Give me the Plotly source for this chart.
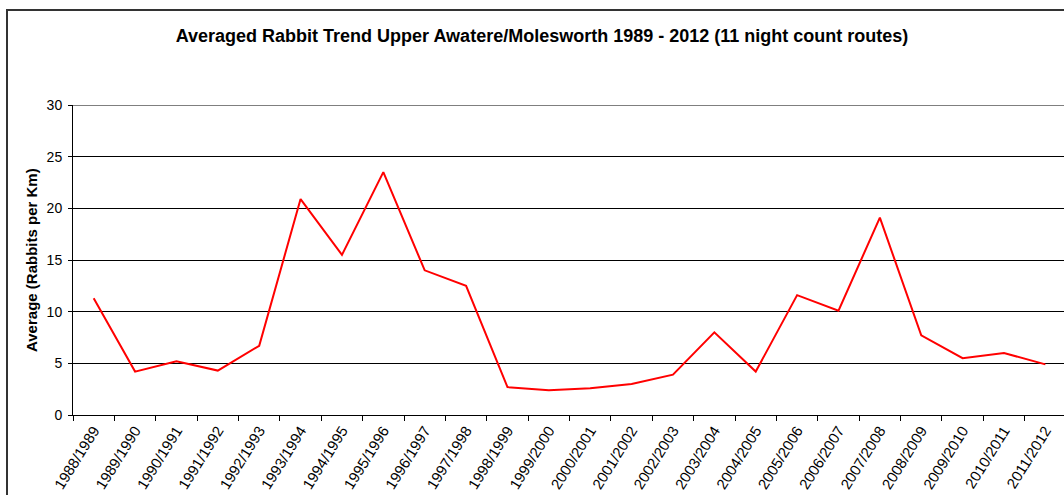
import plotly.graph_objects as go

# Season labels and averaged night-count densities (rabbits per km)
seasons = [
    "1988/1989", "1989/1990", "1990/1991", "1991/1992", "1992/1993", "1993/1994",
    "1994/1995", "1995/1996", "1996/1997", "1997/1998", "1998/1999", "1999/2000",
    "2000/2001", "2001/2002", "2002/2003", "2003/2004", "2004/2005", "2005/2006",
    "2006/2007", "2007/2008", "2008/2009", "2009/2010", "2010/2011", "2011/2012",
]
avg_rabbits = [
    11.3, 4.2, 5.2, 4.3, 6.7, 20.9,
    15.5, 23.5, 14.0, 12.5, 2.7, 2.4,
    2.6, 3.0, 3.9, 8.0, 4.2, 11.6,
    10.1, 19.1, 7.7, 5.5, 6.0, 4.9,
]
y_ticks = [0, 5, 10, 15, 20, 25, 30]

W, H = 1064, 495
L, R, T, B = 73, 0, 105, 80
PW, PH = W - L - R, H - T - B


def px_x(px):
    return (px - L) / PW


def px_y(py):
    return (H - B - py) / PH


fig = go.Figure()
fig.add_trace(go.Scatter(
    x=seasons, y=avg_rabbits, mode="lines",
    line=dict(color="#FF0000", width=2),
    showlegend=False, hoverinfo="x+y",
))

font_family = "Liberation Sans, Arial, sans-serif"

fig.update_layout(
    width=W, height=H,
    margin=dict(l=L, r=R, t=T, b=B, pad=0),
    paper_bgcolor="white", plot_bgcolor="white",
    font=dict(family=font_family, color="black"),
    title=dict(
        text="<b>Averaged Rabbit Trend Upper Awatere/Molesworth 1989 - 2012 (11 night count routes)</b>",
        font=dict(size=18, family=font_family, color="black"),
        xref="container", yref="container",
        x=542 / W, y=1 - 36 / H, xanchor="center", yanchor="middle",
    ),
    xaxis=dict(
        type="category",
        range=[-0.5, 23.45],
        tickangle=-58,
        tickson="boundaries",
        ticks="outside", ticklen=5, tickcolor="black", tickwidth=1,
        showline=True, linecolor="black", linewidth=1,
        showgrid=False, zeroline=False,
        tickfont=dict(size=15, family=font_family, color="black"),
    ),
    yaxis=dict(
        range=[0, 30],
        tickvals=y_ticks,
        ticks="outside", ticklen=4, tickcolor="black", tickwidth=1,
        ticklabelstandoff=3,
        showline=True, linecolor="black", linewidth=1,
        showgrid=True, gridcolor="black", gridwidth=1,
        zeroline=False,
        tickfont=dict(size=14, family=font_family, color="black"),
    ),
    annotations=[dict(
        text="<b>Average (Rabbits per Km)</b>",
        xref="paper", yref="paper",
        x=px_x(31), y=px_y(260),
        xanchor="center", yanchor="middle",
        textangle=-90, showarrow=False,
        font=dict(size=15, family=font_family, color="black"),
    )],
    shapes=[
        # gridline at the top of the value axis
        dict(type="line", xref="paper", yref="y",
             x0=0, x1=1, y0=30, y1=30,
             line=dict(color="#555555", width=1.5)),
        # chart frame (left and top edges)
        dict(type="line", xref="paper", yref="paper",
             x0=px_x(7), x1=px_x(7), y0=px_y(10), y1=px_y(H + 5),
             line=dict(color="#333333", width=2)),
        dict(type="line", xref="paper", yref="paper",
             x0=px_x(6), x1=px_x(W + 5), y0=px_y(10), y1=px_y(10),
             line=dict(color="#333333", width=2)),
    ],
)

fig.write_html("out.html")
